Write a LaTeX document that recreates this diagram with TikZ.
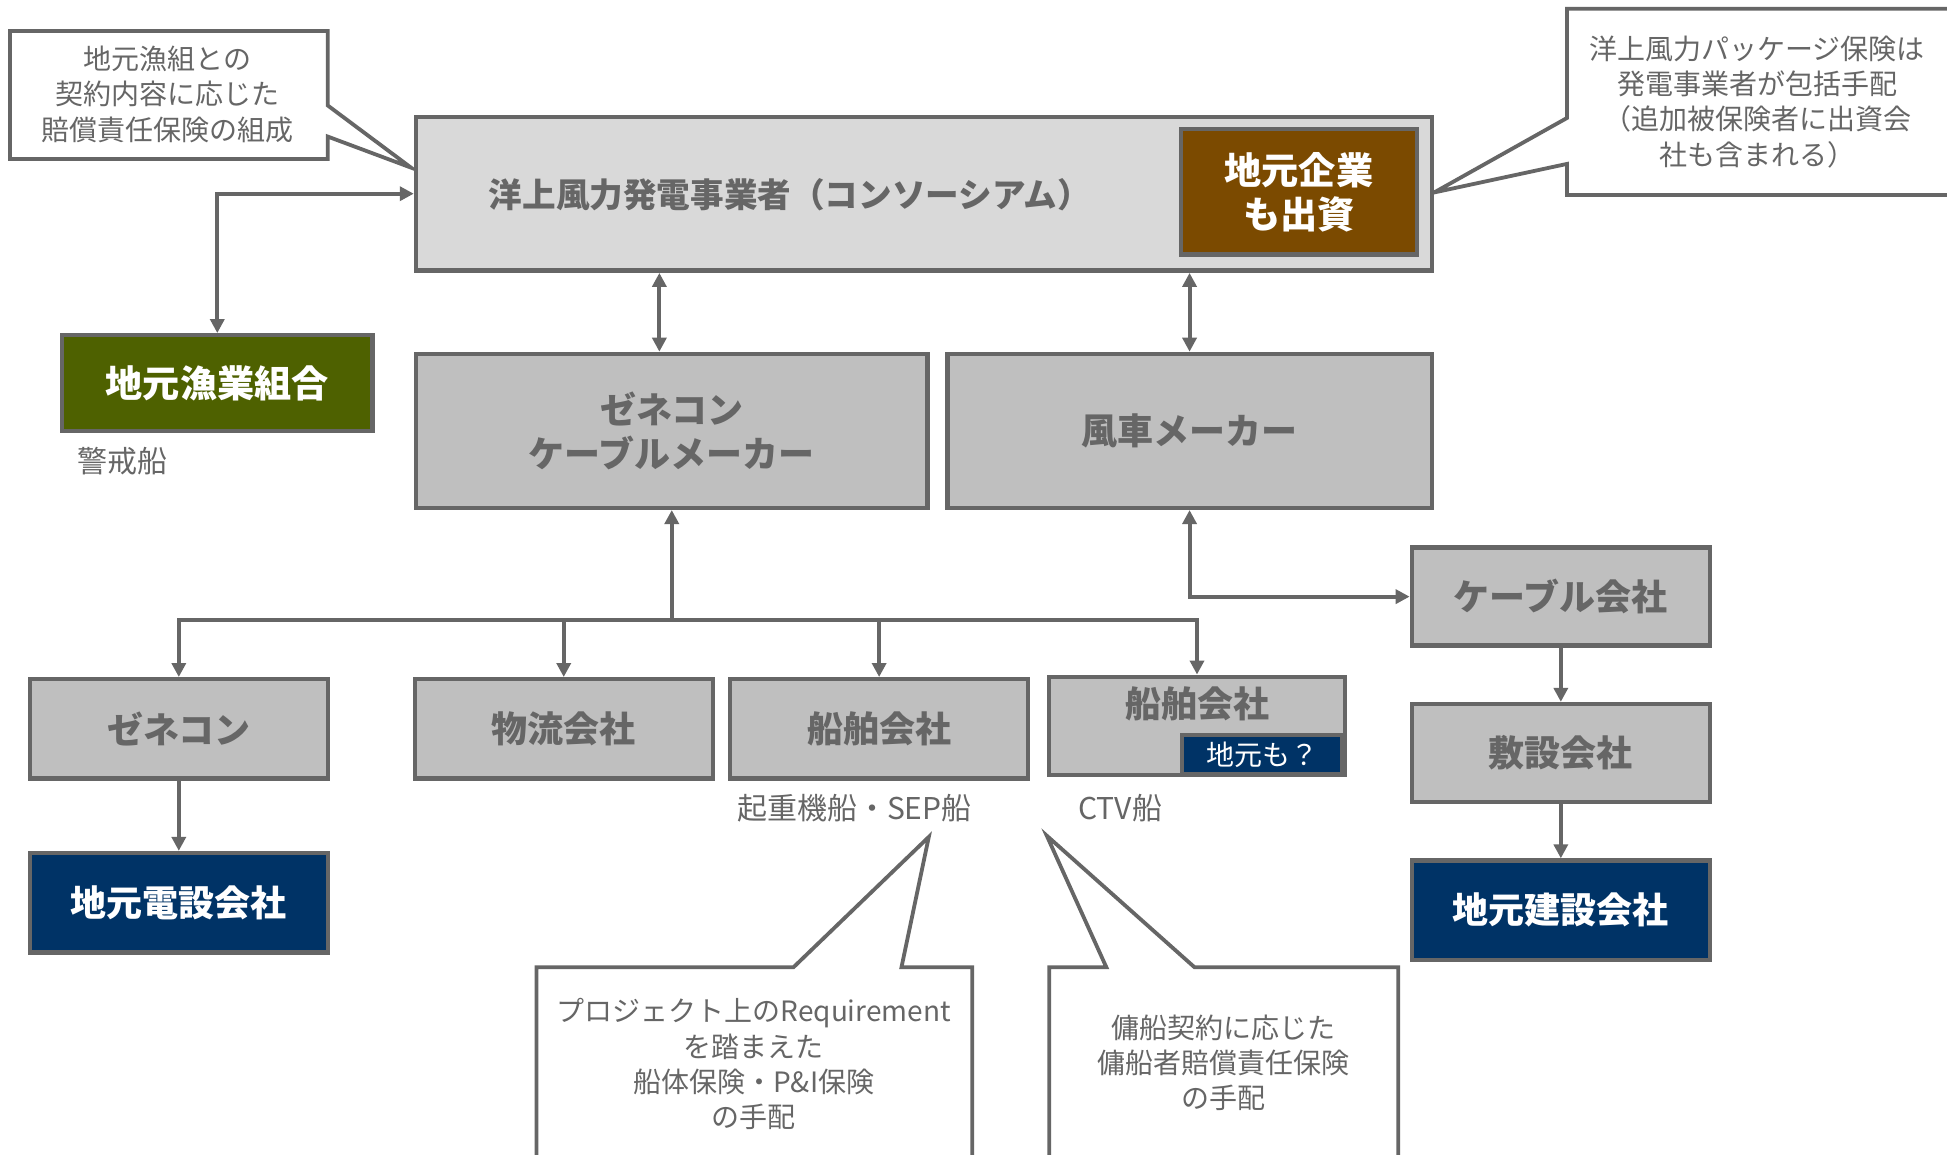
\documentclass[tikz,border=0pt]{standalone}
\usepackage{fontspec}
\setmainfont{Noto Sans CJK JP}
\usetikzlibrary{arrows.meta}
\definecolor{lc}{HTML}{666666}
\definecolor{tc}{HTML}{666666}
\definecolor{lightfill}{HTML}{D9D9D9}
\definecolor{midfill}{HTML}{BFBFBF}
\definecolor{brownfill}{HTML}{7B4A00}
\definecolor{olivefill}{HTML}{4E6100}
\definecolor{navyfill}{HTML}{003366}
\def\pxu{0.62085pt}
\tikzset{
  sz/.style 2 args={minimum width=#1*\pxu, minimum height=#2*\pxu},
  box/.style={draw=lc, line width=2.2pt, inner sep=0pt, align=center,
    font=\bfseries\fontsize{18}{22}\selectfont, text=tc},
  graybox/.style={box, fill=midfill},
  navybox/.style={box, fill=navyfill, text=white},
  conn/.style={draw=lc, line width=2pt,
    -{Triangle[length=7pt,width=7pt]}},
  dconn/.style={draw=lc, line width=2pt,
    {Triangle[length=7pt,width=7pt]}-{Triangle[length=7pt,width=7pt]}},
  callout/.style={draw=lc, line width=1.9pt, fill=white, line join=miter},
  ctext/.style={text=tc, align=center, inner sep=0pt,
    font=\fontsize{14}{17.6}\selectfont},
  lbl/.style={text=tc, inner sep=0pt, font=\fontsize{15}{18}\selectfont},
}
\begin{document}
\begin{tikzpicture}[x=\pxu, y=-\pxu]
\useasboundingbox[fill=white] (0,0) rectangle (1568,930);

% callouts (shapes)
\draw[callout] (8,25) -- (264,25) -- (264,85) -- (331,135) -- (264,110) -- (264,128) -- (8,128) -- cycle;
\node[ctext] (ctl) at (135,76) {地元漁組との\\契約内容に応じた\\賠償責任保険の組成};

\draw[callout] (1262,7) -- (1580,7) -- (1580,157) -- (1262,157) -- (1262,132) -- (1155,155) -- (1262,95) -- cycle;
\node[ctext] (ctr) at (1415,82) {洋上風力パッケージ保険は\\発電事業者が包括手配\\（追加被保険者に出資会\\社も含まれる）};

\draw[callout] (432,779) -- (639,779) -- (748,674) -- (726,779) -- (783,779) -- (783,945) -- (432,945) -- cycle;
\node[ctext] (cbl) at (607,857) {プロジェクト上のRequirement\\を踏まえた\\船体保険・P\&I保険\\の手配};

\draw[callout] (845,779) -- (891,779) -- (843,673) -- (962,779) -- (1126,779) -- (1126,945) -- (845,945) -- cycle;
\node[ctext] (cbr) at (985,856) {傭船契約に応じた\\傭船者賠償責任保険\\の手配};

% main box
\node[box, fill=lightfill, sz={818}{124}] (main) at (744,156) {};
\node[text=tc, inner sep=0pt, font=\bfseries\fontsize{16.8}{20}\selectfont] (maintitle) at (636,157) {洋上風力発電事業者（コンソーシアム）};
\node[box, fill=brownfill, text=white, sz={190}{101}, font=\bfseries\fontsize{18.6}{22}\selectfont] (kigyo) at (1046,154.5) {地元企業\\も出資};

% second row
\node[box, fill=olivefill, text=white, sz={250}{77}, font=\bfseries\fontsize{18.6}{22}\selectfont] (gyokyo) at (175,308.5) {地元漁業組合};
\node[lbl, anchor=west] (keikai) at (62,371) {警戒船};
\node[graybox, sz={412}{124}] (gc) at (541,347) {ゼネコン\\ケーブルメーカー};
\node[graybox, sz={390}{124}] (fusha) at (958,347) {風車メーカー};

% lower rows
\node[graybox, sz={240}{80}] (gene2) at (144,587) {ゼネコン};
\node[graybox, sz={240}{80}] (butsu) at (454,587) {物流会社};
\node[graybox, sz={240}{80}] (sen1) at (708,587) {船舶会社};
\node[graybox, sz={238}{79}] (sen2) at (964,584.5) {};
\node[text=tc, inner sep=0pt, font=\bfseries\fontsize{18}{22}\selectfont] (sen2t) at (964,567) {船舶会社};
\node[box, fill=navyfill, text=white, line width=2pt, sz={129}{31}, font=\fontsize{14}{16}\selectfont] (mo) at (1016.5,607.5) {地元も？};
\node[lbl] (kijuki) at (688,651) {起重機船・SEP船};
\node[lbl, anchor=west] (ctv) at (868,651) {CTV船};

\node[graybox, sz={240}{79}] (cable) at (1257,480.5) {ケーブル会社};
\node[graybox, sz={240}{79}] (fusetsu) at (1257,606.5) {敷設会社};
\node[navybox, sz={240}{80}] (kensetsu) at (1257,733) {地元建設会社};
\node[navybox, sz={240}{80}] (densetsu) at (144,727) {地元電設会社};

% connectors
\draw[dconn] (main.west) -| (gyokyo.north);
\draw[dconn] ([xshift=-6.2pt]gc.north) -- ([xshift=-6.2pt]gc.north |- main.south);
\draw[dconn] (fusha.north) -- (fusha.north |- main.south);
\coordinate (tj) at (541,499);
\draw[conn] (tj) -- (gc.south);
\draw[conn] (tj) -| (gene2.north);
\draw[conn] (tj) -| (butsu.north);
\draw[conn] (tj) -| (sen1.north);
\draw[conn] (tj) -| (sen2.north);
\draw[dconn] (fusha.south) |- (cable.west);
\draw[conn] (cable.south) -- (fusetsu.north);
\draw[conn] (fusetsu.south) -- (kensetsu.north);
\draw[conn] (gene2.south) -- (densetsu.north);
\end{tikzpicture}
\end{document}
